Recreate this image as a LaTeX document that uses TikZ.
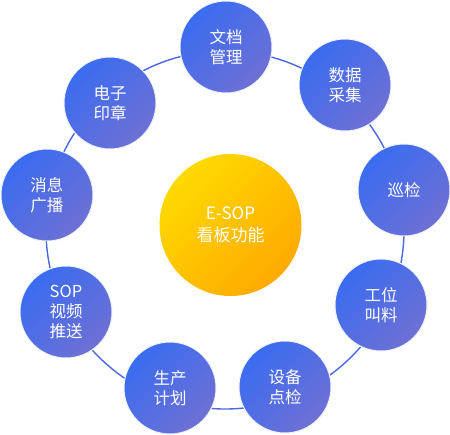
\documentclass[tikz,border=0pt]{standalone}
\usepackage{fontspec}
\setmainfont{Noto Sans CJK SC}
\usepackage{tikz}
\usetikzlibrary{positioning}

\definecolor{nodeblue}{HTML}{3A6CF0}
\definecolor{nodeviolet}{HTML}{6E70D4}
\definecolor{hubyellow}{HTML}{FFDA00}
\definecolor{huborange}{HTML}{FFAA00}
\definecolor{ringblue}{HTML}{4A68E4}

\tikzset{
    func/.style={circle, minimum size=92pt, inner sep=0pt, top color=nodeblue, bottom color=nodeviolet,
        shading angle=45, draw=nodeblue!8, line width=1pt, text=white, align=center,
        font=\fontsize{16.5pt}{20pt}\selectfont},
    hub/.style={circle, minimum size=142pt, inner sep=0pt, top color=hubyellow, bottom color=huborange,
        shading angle=45, text=white, align=center, font=\fontsize{17pt}{22pt}\selectfont},
    ringline/.style={draw=ringblue, line width=1.4pt}
}

\begin{document}
\begin{tikzpicture}[x=1pt,y=-1pt]
    \useasboundingbox (0,0) rectangle (450,434);
    % ring behind the function circles
    \coordinate (ringc) at (225,230);
    \draw[ringline] (ringc) circle (179pt);
    % centre
    \node[hub] (board) at (230.5,225) {E-SOP\\看板功能};
    % functions, clockwise from the top
    \node[func] (docs) at (226,47) {文档\\管理};
    \node[func] (data) at (345,85) {数据\\采集};
    \node[func] (patrol) at (404,190) {巡检};
    \node[func] (call) at (381,305) {工位\\叫料};
    \node[func] (check) at (285,387) {设备\\点检};
    \node[func] (plan) at (170,388) {生产\\计划};
    \node[func] (video) at (66,312) {SOP\\视频\\推送};
    \node[func] (news) at (47,195) {消息\\广播};
    \node[func] (seal) at (110,103) {电子\\印章};
\end{tikzpicture}
\end{document}
